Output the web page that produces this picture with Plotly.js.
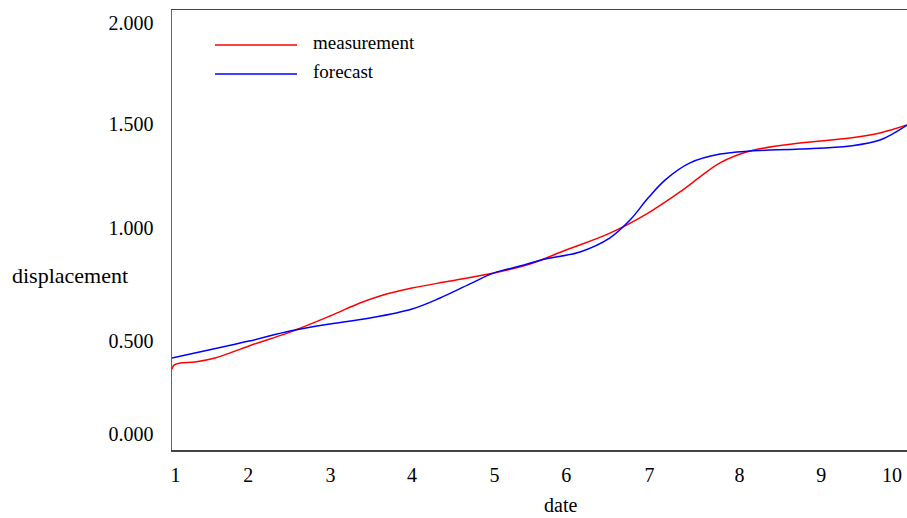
<!DOCTYPE html>
<html>
<head>
<meta charset="utf-8">
<script src="https://cdn.plot.ly/plotly-3.0.1.min.js"></script>
<style>html,body{margin:0;padding:0;background:#fff;}#chart{width:907px;height:518px;}</style>
</head>
<body>
<div id="chart"></div>
<script>
// Series names
const seriesNames = ["measurement", "forecast"];
const seriesColors = ["#ff0000", "#0000ff"];

// measurement (red)
const measX = [1.000, 1.024, 1.098, 1.282, 1.527, 1.943, 2.445, 2.935, 3.302, 3.547, 3.939, 4.404, 4.943, 5.384, 5.824, 6.363, 6.829, 7.220, 7.465, 7.710, 8.078, 8.690, 9.302, 9.669, 10.000];
const measY = [0.368, 0.386, 0.395, 0.400, 0.418, 0.473, 0.536, 0.609, 0.668, 0.700, 0.736, 0.768, 0.805, 0.845, 0.909, 0.986, 1.077, 1.173, 1.241, 1.305, 1.359, 1.395, 1.418, 1.441, 1.477];

// forecast (blue)
const foreX = [1.000, 1.943, 2.445, 2.935, 3.424, 3.939, 4.282, 4.649, 4.943, 5.261, 5.567, 5.996, 6.363, 6.608, 6.829, 7.037, 7.343, 7.710, 8.078, 8.690, 9.302, 9.669, 10.000];
const foreY = [0.418, 0.495, 0.541, 0.573, 0.600, 0.641, 0.691, 0.755, 0.805, 0.836, 0.868, 0.900, 0.964, 1.045, 1.145, 1.227, 1.305, 1.345, 1.359, 1.368, 1.382, 1.409, 1.477];

// tick labels
const xTickText = ["1", "2", "3", "4", "5", "6", "7", "8", "9", "10"];
const xTickPos = [1.043, 1.934, 2.941, 3.939, 4.949, 5.827, 6.847, 7.949, 8.949, 9.816];
const yTickText = ["0.000", "0.500", "1.000", "1.500", "2.000"];
const yTickPos = [0.073, 0.495, 1.011, 1.480, 1.943];

const FONT = "Liberation Serif, Times New Roman, serif";

const traces = [
  {x: measX, y: measY, name: seriesNames[0], mode: "lines", line: {color: seriesColors[0], width: 1.5, shape: "spline", smoothing: 1}},
  {x: foreX, y: foreY, name: seriesNames[1], mode: "lines", line: {color: seriesColors[1], width: 1.5, shape: "spline", smoothing: 1}}
];

const legendShapes = seriesNames.map((n, i) => ({
  type: "line", xref: "paper", yref: "paper",
  x0: (215 - 172) / 735, x1: (297 - 172) / 735,
  y0: (450 - (45 + i * 29)) / 440, y1: (450 - (45 + i * 29)) / 440,
  line: {color: seriesColors[i], width: 1.5}
}));

const legendAnn = seriesNames.map((n, i) => ({
  text: n, xref: "paper", yref: "paper", showarrow: false,
  x: (311 - 172) / 735, xanchor: "left",
  y: (450 - (42 + i * 29)) / 440, yanchor: "middle",
  font: {family: FONT, size: 19, color: "#000"}
}));

const layout = {
  width: 907, height: 518,
  margin: {l: 172, r: 0, t: 10, b: 68},
  paper_bgcolor: "#fff", plot_bgcolor: "#fff",
  showlegend: false,
  font: {family: FONT, size: 20, color: "#000"},
  xaxis: {
    range: [1, 10], showgrid: false, zeroline: false,
    showline: true, mirror: true, linecolor: "#444", linewidth: 1.5,
    tickmode: "array", tickvals: xTickPos, ticktext: xTickText,
    ticks: "", ticklabelstandoff: 6,
    tickfont: {family: FONT, size: 20, color: "#000"}
  },
  yaxis: {
    range: [0, 2], showgrid: false, zeroline: false,
    showline: true, mirror: false, linecolor: "#666", linewidth: 1.5,
    tickmode: "array", tickvals: yTickPos, ticktext: yTickText,
    ticks: "", ticklabelstandoff: 13,
    tickfont: {family: FONT, size: 20, color: "#000"}
  },
  shapes: legendShapes,
  annotations: legendAnn.concat([
    {text: "displacement", xref: "paper", yref: "paper", showarrow: false,
     x: (70 - 172) / 735, xanchor: "center", y: (450 - 275) / 440, yanchor: "middle",
     font: {family: FONT, size: 22, color: "#000"}},
    {text: "date", xref: "paper", yref: "paper", showarrow: false,
     x: (560 - 172) / 735, xanchor: "center", y: (450 - 505) / 440, yanchor: "middle",
     font: {family: FONT, size: 20, color: "#000"}}
  ])
};

Plotly.newPlot("chart", traces, layout, {displayModeBar: false, staticPlot: true});
</script>
</body>
</html>
